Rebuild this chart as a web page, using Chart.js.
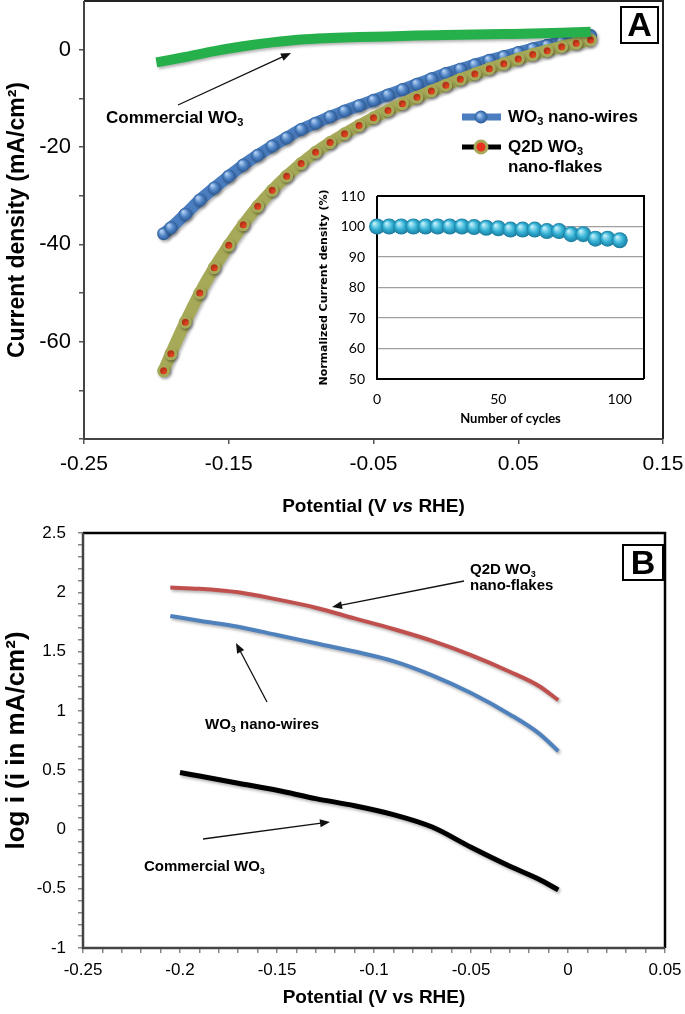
<!DOCTYPE html>
<html>
<head>
<meta charset="utf-8">
<script src="https://cdn.jsdelivr.net/npm/chart.js@4.4.0/dist/chart.umd.min.js"></script>
<style>
  body { margin: 0; background: #fff; }
  #wrap { position: relative; width: 685px; height: 1014px; overflow: hidden; }
  #wrap canvas { position: absolute; }
</style>
</head>
<body>
<div id="wrap">
  <canvas id="graficoA" width="685" height="520" style="left:0;top:0"></canvas>
  <canvas id="graficoInset" width="350" height="254" style="left:310px;top:186px"></canvas>
  <canvas id="graficoB" width="685" height="494" style="left:0;top:520px"></canvas>
</div>
<script>
// ===== Dados painel A (J-V) =====
const potA = [-0.195, -0.19, -0.18, -0.17, -0.16, -0.15, -0.14, -0.13, -0.12, -0.11, -0.10,
  -0.09, -0.08, -0.07, -0.06, -0.05, -0.04, -0.03, -0.02, -0.01, 0,
  0.01, 0.02, 0.03, 0.04, 0.05, 0.06, 0.07, 0.08, 0.09, 0.10];
const jNanoWires = [-37.8, -36.6, -33.8, -30.9, -28.4, -26.0, -23.7, -21.7, -19.8, -18.1, -16.4,
  -15.1, -13.8, -12.6, -11.5, -10.4, -9.3, -8.2, -7.1, -6.0, -4.9,
  -4.0, -3.1, -2.2, -1.4, -0.6, 0.2, 0.9, 1.6, 2.3, 2.9];
const jNanoFlakes = [-66.0, -62.5, -56.0, -50.0, -44.8, -40.2, -36.0, -32.2, -28.9, -26.0, -23.4,
  -21.1, -19.1, -17.3, -15.6, -14.0, -12.5, -11.1, -9.8, -8.5, -7.3,
  -6.1, -5.0, -3.9, -2.9, -1.9, -1.0, -0.2, 0.6, 1.3, 2.0];
const potComercial = [-0.2, -0.18, -0.16, -0.14, -0.12, -0.10, -0.08, -0.06, -0.04, -0.02, 0,
  0.02, 0.04, 0.06, 0.08, 0.10];
const jComercial = [-2.6, -1.5, -0.3, 0.7, 1.5, 2.1, 2.4, 2.6, 2.7, 2.9, 3.0,
  3.1, 3.2, 3.3, 3.5, 3.7];
const ticksAx = [-0.25, -0.15, -0.05, 0.05, 0.15];
const labelsAy = [0, -20, -40, -60];

// ===== Dados do inset (ciclos) =====
const ciclos = [0, 5, 10, 15, 20, 25, 30, 35, 40, 45, 50, 55, 60, 65, 70, 75, 80, 85, 90, 95, 100];
const jNormalizada = [100, 100, 100, 100, 100, 100, 100, 100, 99.8, 99.6, 99.4,
  99, 99, 99, 98.5, 98.5, 97.5, 97.5, 96, 96, 95.5];
const ticksInsetX = [0, 50, 100];

// ===== Dados painel B (Tafel) =====
const potB = [-0.205, -0.19, -0.17, -0.15, -0.13, -0.11, -0.09, -0.07, -0.05, -0.03, -0.015, -0.005];
const logFlakes = [2.04, 2.03, 2.00, 1.94, 1.87, 1.78, 1.69, 1.59, 1.47, 1.33, 1.21, 1.09];
const logWires = [1.80, 1.76, 1.71, 1.64, 1.57, 1.50, 1.42, 1.30, 1.15, 0.97, 0.81, 0.66];
const potBComercial = [-0.2, -0.19, -0.17, -0.15, -0.13, -0.11, -0.09, -0.07, -0.05, -0.03, -0.015, -0.005];
const logComercial = [0.48, 0.45, 0.39, 0.33, 0.26, 0.20, 0.125, 0.02, -0.15, -0.31, -0.42, -0.51];
const labelsBx = [-0.25, -0.2, -0.15, -0.1, -0.05, 0, 0.05];
const labelsBy = [-1, -0.5, 0, 0.5, 1, 1.5, 2, 2.5];

const FONT = '"Liberation Sans", Arial, sans-serif';
const pts = (xs, ys) => xs.map((x, i) => ({ x, y: ys[i] }));
const isIn = (arr, v) => arr.some(a => Math.abs(a - v) < 1e-9);

// sem folga extra por causa dos rótulos das pontas
const semFolga = s => { s.paddingTop = 0; s.paddingBottom = 0; s.paddingLeft = 0; s.paddingRight = 0; };

// marcador "esfera" com gradiente radial (efeito 3D do Excel)
function esfera(base, claro, escuro, r) {
  return c => {
    const ch = c.chart;
    if (!ch.chartArea || !c.parsed) return base;
    const x = ch.scales.x.getPixelForValue(c.parsed.x);
    const y = ch.scales.y.getPixelForValue(c.parsed.y);
    const g = ch.ctx.createRadialGradient(x - r * 0.35, y - r * 0.4, 0.5, x, y, r);
    g.addColorStop(0, claro);
    g.addColorStop(0.55, base);
    g.addColorStop(1, escuro);
    return g;
  };
}

// ===== Helpers de desenho =====
function texto(ctx, x, y, partes, px, align) {
  const fonte = p => `${p.i ? 'italic ' : ''}bold ${p.sub ? Math.round(px * 0.62) : px}px ${FONT}`;
  let w = 0;
  partes.forEach(p => { ctx.font = fonte(p); w += ctx.measureText(p.t).width; });
  let cx = align === 'center' ? x - w / 2 : x;
  ctx.textAlign = 'left';
  ctx.textBaseline = 'middle';
  ctx.fillStyle = '#000';
  partes.forEach(p => {
    ctx.font = fonte(p);
    ctx.fillText(p.t, cx, y + (p.sub ? px * 0.32 : 0));
    cx += ctx.measureText(p.t).width;
  });
}

function seta(ctx, x1, y1, x2, y2) {
  const ang = Math.atan2(y2 - y1, x2 - x1);
  ctx.save();
  ctx.strokeStyle = '#111';
  ctx.fillStyle = '#111';
  ctx.lineWidth = 1.3;
  ctx.beginPath();
  ctx.moveTo(x1, y1);
  ctx.lineTo(x2 - 7 * Math.cos(ang), y2 - 7 * Math.sin(ang));
  ctx.stroke();
  ctx.translate(x2, y2);
  ctx.rotate(ang);
  ctx.beginPath();
  ctx.moveTo(0, 0);
  ctx.lineTo(-10, -4);
  ctx.lineTo(-10, 4);
  ctx.closePath();
  ctx.fill();
  ctx.restore();
}

function caixaLetra(ctx, x, y, w, h, letra) {
  ctx.save();
  ctx.fillStyle = '#fff';
  ctx.fillRect(x, y, w, h);
  ctx.strokeStyle = '#000';
  ctx.lineWidth = 2;
  ctx.strokeRect(x, y, w, h);
  ctx.fillStyle = '#000';
  ctx.font = `bold 34px ${FONT}`;
  ctx.textAlign = 'center';
  ctx.textBaseline = 'middle';
  ctx.fillText(letra, x + w / 2, y + h / 2 + 2);
  ctx.restore();
}

// moldura em volta da área do gráfico
const moldura = {
  id: 'moldura',
  beforeDatasetsDraw(chart, args, opts) {
    const { ctx, chartArea: a } = chart;
    ctx.save();
    ctx.lineWidth = opts.width || 2;
    ctx.strokeStyle = opts.top || '#000';
    ctx.beginPath();
    ctx.moveTo(a.left, a.top); ctx.lineTo(a.right, a.top); ctx.lineTo(a.right, a.bottom);
    ctx.stroke();
    ctx.strokeStyle = opts.axis || '#333';
    ctx.beginPath();
    ctx.moveTo(a.left, a.top); ctx.lineTo(a.left, a.bottom); ctx.lineTo(a.right, a.bottom);
    ctx.stroke();
    ctx.restore();
  }
};

const sombra = {
  id: 'sombra',
  beforeDatasetDraw(chart) {
    const ctx = chart.ctx;
    ctx.save();
    ctx.shadowColor = 'rgba(0,0,0,0.3)';
    ctx.shadowBlur = 3;
    ctx.shadowOffsetX = 1.5;
    ctx.shadowOffsetY = 2;
  },
  afterDatasetDraw(chart) { chart.ctx.restore(); }
};

// ===== Painel A =====
const anotacoesA = {
  id: 'anotacoesA',
  afterDraw(chart) {
    const ctx = chart.ctx;
    texto(ctx, 106, 118, [{ t: 'Commercial WO' }, { t: '3', sub: true }], 17);
    seta(ctx, 178, 105, 291, 53);

    // legenda
    ctx.save();
    ctx.lineWidth = 7;
    ctx.strokeStyle = '#4a7ec0';
    ctx.beginPath(); ctx.moveTo(462, 117); ctx.lineTo(501, 117); ctx.stroke();
    const g = ctx.createRadialGradient(479, 115, 0.5, 481, 117, 6.5);
    g.addColorStop(0, '#b3d0f2'); g.addColorStop(0.55, '#4f84c6'); g.addColorStop(1, '#2d5a96');
    ctx.fillStyle = g;
    ctx.beginPath(); ctx.arc(481, 117, 6.5, 0, Math.PI * 2); ctx.fill();
    ctx.lineWidth = 5;
    ctx.strokeStyle = '#000';
    ctx.beginPath(); ctx.moveTo(462, 147); ctx.lineTo(501, 147); ctx.stroke();
    ctx.fillStyle = '#e8321e'; ctx.strokeStyle = '#a9a85a'; ctx.lineWidth = 3;
    ctx.beginPath(); ctx.arc(481, 147, 6, 0, Math.PI * 2); ctx.fill(); ctx.stroke();
    ctx.restore();
    texto(ctx, 508, 117, [{ t: 'WO' }, { t: '3', sub: true }, { t: ' nano-wires' }], 17);
    texto(ctx, 508, 147, [{ t: 'Q2D WO' }, { t: '3', sub: true }], 17);
    texto(ctx, 508, 167, [{ t: 'nano-flakes' }], 17);

    caixaLetra(ctx, 621, 7, 37, 36, 'A');

    // título do eixo x com "vs" em itálico
    texto(ctx, (chart.chartArea.left + chart.chartArea.right) / 2, 507,
      [{ t: 'Potential (V ' }, { t: 'vs', i: true }, { t: ' RHE)' }], 19, 'center');
  }
};

new Chart(document.getElementById('graficoA'), {
  type: 'line',
  data: {
    datasets: [
      {
        label: 'Commercial WO3',
        data: pts(potComercial, jComercial),
        borderColor: '#25b04b',
        borderWidth: 10,
        pointRadius: 0,
        cubicInterpolationMode: 'monotone'
      },
      {
        label: 'Q2D WO3 nano-flakes',
        data: pts(potA, jNanoFlakes),
        borderColor: '#a6aa58',
        borderWidth: 12,
        pointRadius: 5,
        pointBackgroundColor: '#e4421f',
        pointBorderColor: '#a6aa58',
        pointBorderWidth: 3,
        cubicInterpolationMode: 'monotone'
      },
      {
        label: 'WO3 nano-wires',
        data: pts(potA, jNanoWires),
        borderColor: '#4a7ec0',
        borderWidth: 12,
        pointRadius: 6.5,
        pointBackgroundColor: esfera('#4f84c6', '#b3d0f2', '#2d5a96', 6.5),
        pointBorderWidth: 0,
        cubicInterpolationMode: 'monotone'
      }
    ]
  },
  options: {
    responsive: false,
    animation: false,
    layout: { autoPadding: false, padding: { top: 1, right: 22, left: 0, bottom: 0 } },
    plugins: {
      legend: { display: false },
      tooltip: { enabled: false },
      moldura: { top: '#222', axis: '#444', width: 2 }
    },
    scales: {
      x: {
        type: 'linear',
        min: -0.25,
        max: 0.15,
        afterBuildTicks: s => { s.ticks = ticksAx.map(v => ({ value: v })); },
        afterFit: s => { s.height = 81; semFolga(s); },
        grid: { drawOnChartArea: false, tickLength: 5, color: '#555', lineWidth: 1.5 },
        border: { display: false },
        ticks: {
          padding: 8,
          color: '#000',
          font: { family: FONT, size: 21 },
          callback: v => String(v)
        }
      },
      y: {
        min: -80,
        max: 10,
        ticks: {
          stepSize: 10,
          padding: 8,
          color: '#000',
          font: { family: FONT, size: 22 },
          callback: v => (v === 10 ? null : (isIn(labelsAy, v) ? String(v) : ''))
        },
        afterFit: s => { s.width = 84; semFolga(s); },
        grid: { drawOnChartArea: false, tickLength: 5, color: '#555', lineWidth: 1.5 },
        border: { display: false },
        title: {
          display: true,
          text: 'Current density (mA/cm²)',
          color: '#000',
          font: { family: FONT, size: 23, weight: 'bold' },
          padding: { top: 4, bottom: 0 }
        }
      }
    }
  },
  plugins: [moldura, sombra, anotacoesA]
});

// ===== Inset =====
new Chart(document.getElementById('graficoInset'), {
  type: 'line',
  data: {
    datasets: [{
      data: pts(ciclos, jNormalizada),
      showLine: false,
      pointRadius: 8,
      pointBackgroundColor: esfera('#33b2d6', '#c4f0fa', '#1b7a9c', 8),
      pointBorderWidth: 0,
      clip: false
    }]
  },
  options: {
    responsive: false,
    animation: false,
    layout: { autoPadding: false, padding: { top: 10, right: 16, left: 0, bottom: 0 } },
    plugins: {
      legend: { display: false },
      tooltip: { enabled: false },
      moldura: { top: '#000', axis: '#000', width: 2 }
    },
    scales: {
      x: {
        type: 'linear',
        min: 0,
        max: 110,
        afterBuildTicks: s => { s.ticks = ticksInsetX.map(v => ({ value: v })); },
        afterFit: s => { s.height = 61; semFolga(s); },
        grid: { display: false, drawTicks: false },
        border: { display: false },
        ticks: { padding: 12, color: '#000', font: { family: 'Lato', size: 14 } },
        title: {
          display: true,
          text: 'Number of cycles',
          color: '#000',
          font: { family: 'Lato', size: 13, weight: 'bold' },
          padding: { top: 0, bottom: 13 }
        }
      },
      y: {
        min: 50,
        max: 110,
        ticks: { stepSize: 10, padding: 12, color: '#000', font: { family: 'Lato', size: 14 } },
        afterFit: s => { s.width = 67; semFolga(s); },
        grid: { color: '#a0a0a0', lineWidth: 1.2, drawTicks: false },
        border: { display: false },
        title: {
          display: true,
          text: 'Normalized Current density (%)',
          color: '#000',
          font: { family: '"DejaVu Sans"', size: 11, weight: 'bold' },
          padding: { top: 8, bottom: 0 }
        }
      }
    }
  },
  plugins: [moldura]
});

// ===== Painel B =====
const anotacoesB = {
  id: 'anotacoesB',
  afterDraw(chart) {
    const ctx = chart.ctx;
    texto(ctx, 470, 50, [{ t: 'Q2D WO' }, { t: '3', sub: true }], 15);
    texto(ctx, 470, 66, [{ t: 'nano-flakes' }], 15);
    seta(ctx, 464, 61, 332, 87);
    texto(ctx, 205, 205, [{ t: 'WO' }, { t: '3', sub: true }, { t: ' nano-wires' }], 15);
    seta(ctx, 267, 182, 236, 123);
    texto(ctx, 144, 347, [{ t: 'Commercial WO' }, { t: '3', sub: true }], 15);
    seta(ctx, 203, 319, 330, 302);
    caixaLetra(ctx, 623, 25, 40, 35, 'B');
  }
};

new Chart(document.getElementById('graficoB'), {
  type: 'line',
  data: {
    datasets: [
      { label: 'Q2D WO3 nano-flakes', data: pts(potB, logFlakes), borderColor: '#c0504d', borderWidth: 4, pointRadius: 0, cubicInterpolationMode: 'monotone' },
      { label: 'WO3 nano-wires', data: pts(potB, logWires), borderColor: '#4f81bd', borderWidth: 4, pointRadius: 0, cubicInterpolationMode: 'monotone' },
      { label: 'Commercial WO3', data: pts(potBComercial, logComercial), borderColor: '#000', borderWidth: 5, pointRadius: 0, cubicInterpolationMode: 'monotone' }
    ]
  },
  options: {
    responsive: false,
    animation: false,
    layout: { autoPadding: false, padding: { top: 13, right: 20, left: 0, bottom: 0 } },
    plugins: {
      legend: { display: false },
      tooltip: { enabled: false },
      moldura: { top: '#000', axis: '#444', width: 2.5 }
    },
    scales: {
      x: {
        type: 'linear',
        min: -0.25,
        max: 0.05,
        afterFit: s => { s.height = 66; semFolga(s); },
        grid: { drawOnChartArea: false, tickLength: 5, color: '#888', lineWidth: 1.5 },
        border: { display: false },
        ticks: {
          stepSize: 0.01,
          autoSkip: false,
          maxRotation: 0,
          padding: 7,
          color: '#000',
          font: { family: FONT, size: 17 },
          callback: v => (isIn(labelsBx, v) ? String(Math.round(v * 100) / 100) : '')
        },
        title: {
          display: true,
          text: 'Potential (V vs RHE)',
          color: '#000',
          font: { family: FONT, size: 19, weight: 'bold' },
          padding: { top: 0, bottom: 5 }
        }
      },
      y: {
        min: -1,
        max: 2.5,
        ticks: {
          stepSize: 0.1,
          autoSkip: false,
          padding: 12,
          color: '#000',
          font: { family: FONT, size: 17 },
          callback: v => (isIn(labelsBy, v) ? String(Math.round(v * 10) / 10) : '')
        },
        afterFit: s => { s.width = 83; semFolga(s); },
        grid: { drawOnChartArea: false, tickLength: 5, color: '#888', lineWidth: 1.5 },
        border: { display: false },
        title: {
          display: true,
          text: 'log i (i in mA/cm²)',
          color: '#000',
          font: { family: FONT, size: 26, weight: 'bold' },
          padding: { top: 1, bottom: 0 }
        }
      }
    }
  },
  plugins: [moldura, sombra, anotacoesB]
});
</script>
</body>
</html>
